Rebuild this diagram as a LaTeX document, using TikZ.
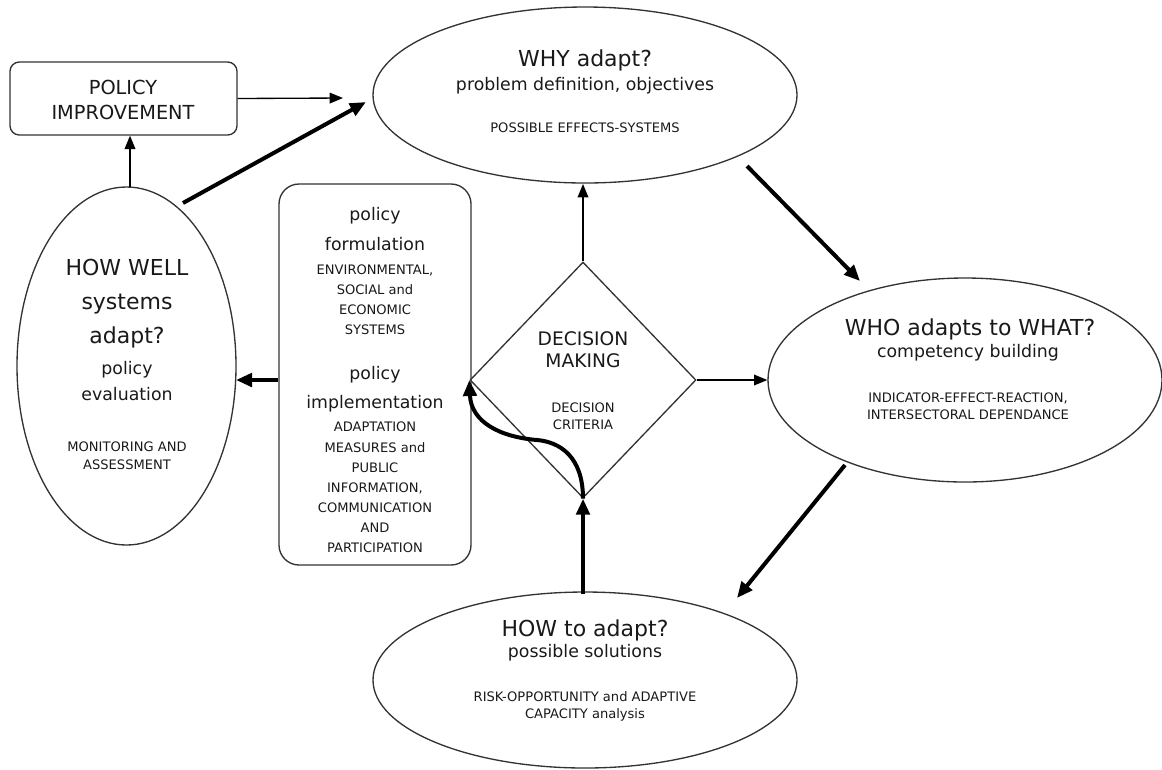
\documentclass[tikz,border=0pt]{standalone}
\usepackage{fontspec}
\setmainfont{DejaVu Sans}
\usetikzlibrary{shapes.geometric,arrows.meta}
\tikzset{
  shapeline/.style={draw=black!80, line width=1pt},
  ell/.style={shapeline, ellipse, inner sep=0pt},
  rbox/.style={shapeline, rectangle, inner sep=0pt},
  thinarrow/.style={draw=black, line width=1pt, -{Triangle[length=10pt,width=8pt]}},
  thickarrow/.style={draw=black, line width=3pt, -{Triangle[length=12pt,width=10pt]}},
  txt/.style={inner sep=0pt, align=center, text=black!90},
  ttl/.style={txt, font=\fontsize{16.5}{25}\selectfont},
  sub/.style={txt, font=\fontsize{13}{19.5}\selectfont},
  sml/.style={txt, font=\fontsize{9.8}{12.75}\selectfont},
}
\begin{document}
\begin{tikzpicture}[x=0.75pt,y=-0.75pt]
\useasboundingbox (0,0) rectangle (1162,769);
% shapes
\node[rbox, rounded corners=7pt, minimum width=227*0.75pt, minimum height=73*0.75pt] (pi) at (123.5,98.5) {};
\node[ell, minimum width=424*0.75pt, minimum height=176*0.75pt] (why) at (585,95) {};
\node[ell, minimum width=394*0.75pt, minimum height=204*0.75pt] (who) at (965,380) {};
\node[ell, minimum width=424*0.75pt, minimum height=176*0.75pt] (how) at (585,680) {};
\node[ell, minimum width=219*0.75pt, minimum height=358*0.75pt] (hw) at (126.5,366) {};
\node[rbox, rounded corners=15pt, minimum width=192*0.75pt, minimum height=381*0.75pt] (mid) at (375,374.5) {};
\node[shapeline, diamond, inner sep=0pt, minimum width=226*0.75pt, minimum height=236*0.75pt] (dm) at (583,380) {};
% texts
\node[txt, font=\fontsize{14.5}{19}\selectfont] (pit) at (123,100) {POLICY\\IMPROVEMENT};
\node[ttl] (whyt) at (585,60) {WHY adapt?};
\node[sub] (whys) at (585,86) {problem definition, objectives};
\node[sml] (whyx) at (585,128) {POSSIBLE EFFECTS-SYSTEMS};
\node[ttl] (whot) at (970,329) {WHO adapts to WHAT?};
\node[sub] (whos) at (968,353) {competency building};
\node[sml] (whox) at (968,406.5) {INDICATOR-EFFECT-REACTION,\\INTERSECTORAL DEPENDANCE};
\node[ttl] (howt) at (585,630) {HOW to adapt?};
\node[sub] (hows) at (585,653) {possible solutions};
\node[sml] (howx) at (585,706.5) {RISK-OPPORTUNITY and ADAPTIVE\\CAPACITY analysis};
\node[ttl, font=\fontsize{16.5}{25.5}\selectfont] (hwt) at (127,304) {HOW WELL\\systems\\adapt?};
\node[sub] (hws) at (127,381) {policy\\evaluation};
\node[sml, font=\fontsize{9.8}{13.5}\selectfont] (hwx) at (127,456) {MONITORING AND\\ASSESSMENT};
\node[sub, font=\fontsize{13}{22.5}\selectfont] (mf) at (375,229) {policy\\formulation};
\node[sml, font=\fontsize{9.8}{15}\selectfont] (mfx) at (375,300) {ENVIRONMENTAL,\\SOCIAL and\\ECONOMIC\\SYSTEMS};
\node[sub, font=\fontsize{13}{22}\selectfont] (mi) at (375,389) {policy\\implementation};
\node[sml, font=\fontsize{9.8}{15.1}\selectfont] (mix) at (375,487.5) {ADAPTATION\\MEASURES and\\PUBLIC\\INFORMATION,\\COMMUNICATION\\AND\\PARTICIPATION};
\node[txt, font=\fontsize{14}{16.5}\selectfont] (dmt) at (583,350) {DECISION\\MAKING};
\node[sml] (dmx) at (583,416.5) {DECISION\\CRITERIA};
% connector end points
\coordinate (a1) at (343,98);
\coordinate (a2s) at (183,203);
\coordinate (a2e) at (366,102);
\coordinate (a3s) at (130,187);
\coordinate (a4e) at (583,184);
\coordinate (a5s) at (747,166);
\coordinate (a5e) at (860,281);
\coordinate (a6s) at (845,465);
\coordinate (a6e) at (737,598);
\coordinate (a7s) at (583,594);
\coordinate (a8e) at (236,380);
\coordinate (cm) at (537,440);
% connectors
\draw[thinarrow] (pi.east) -- (a1);
\draw[thickarrow] (a2s) -- (a2e);
\draw[thinarrow] (a3s) -- (pi.south -| a3s);
\draw[thinarrow] (dm.north) -- (a4e);
\draw[thinarrow] (dm.east) -- (who.west);
\draw[thickarrow] (a5s) -- (a5e);
\draw[thickarrow] (a6s) -- (a6e);
\draw[thickarrow] (a7s) -- (dm.south);
\draw[thickarrow] (mid.west |- a8e) -- (a8e);
\draw[thickarrow] (dm.south) .. controls +(0,-42) and (560,442) .. (cm) .. controls (500,437) and (471,422) .. (dm.west);
\end{tikzpicture}
\end{document}
